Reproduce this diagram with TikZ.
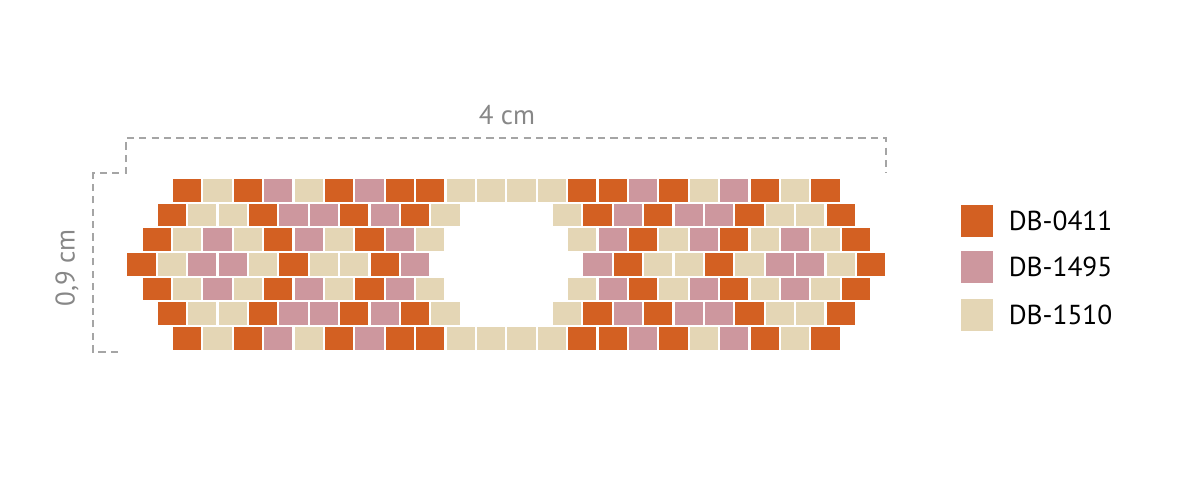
\documentclass[tikz,border=0pt]{standalone}
\usepackage{fontspec}
\setmainfont{PT Sans}
\usetikzlibrary{positioning}
\definecolor{db0411}{RGB}{211,96,34}
\definecolor{db1495}{RGB}{205,151,158}
\definecolor{db1510}{RGB}{228,214,181}
\definecolor{dimline}{RGB}{165,165,165}
\definecolor{dimtext}{RGB}{135,135,135}
\begin{document}
\begin{tikzpicture}[x=0.5pt,y=-0.5pt,
  o/.style={fill=db0411},p/.style={fill=db1495},t/.style={fill=db1510},n/.style={fill=none},
  dim/.style={draw=dimline,line width=0.6pt,dash pattern=on 3.6pt off 2.6pt},
  swatch/.style={minimum size=16pt,inner sep=0pt},
  legtext/.style={inner sep=0pt,font=\fontsize{13.7}{16}\selectfont}]
\useasboundingbox (0,0) rectangle (1200,500);
% bead rows, top to bottom
\foreach \c [count=\k from 0] in {o,t,o,p,t,o,p,o,o,t,t,t,t,o,o,p,o,t,p,o,t,o}
  \fill[\c] (172.9+\k*30.4,178.8) rectangle ++(28.3,22.8);
\foreach \c [count=\k from 0] in {o,t,t,o,p,p,o,p,o,t,n,n,n,t,o,p,o,p,p,o,t,t,o}
  \fill[\c] (157.7+\k*30.4,203.5) rectangle ++(28.3,22.8);
\foreach \c [count=\k from 0] in {o,t,p,t,o,p,t,o,p,t,n,n,n,n,t,p,o,t,p,o,t,p,t,o}
  \fill[\c] (142.5+\k*30.4,228.2) rectangle ++(28.3,22.8);
\foreach \c [count=\k from 0] in {o,t,p,p,t,o,t,t,o,p,n,n,n,n,n,p,o,t,t,o,t,p,p,t,o}
  \fill[\c] (127.3+\k*30.4,252.9) rectangle ++(28.3,22.8);
\foreach \c [count=\k from 0] in {o,t,p,t,o,p,t,o,p,t,n,n,n,n,t,p,o,t,p,o,t,p,t,o}
  \fill[\c] (142.5+\k*30.4,277.6) rectangle ++(28.3,22.8);
\foreach \c [count=\k from 0] in {o,t,t,o,p,p,o,p,o,t,n,n,n,t,o,p,o,p,p,o,t,t,o}
  \fill[\c] (157.7+\k*30.4,302.3) rectangle ++(28.3,22.8);
\foreach \c [count=\k from 0] in {o,t,o,p,t,o,p,o,o,t,t,t,t,o,o,p,o,t,p,o,t,o}
  \fill[\c] (172.9+\k*30.4,327.0) rectangle ++(28.3,22.8);
% dimensions
\draw[dim] (118,352)--(93,352)--(93,173)--(126,173)--(126,138)--(886,138)--(886,173);
\node[text=dimtext,font=\fontsize{13.5}{16}\selectfont] (width) at (507,115) {4 cm};
\node[text=dimtext,font=\fontsize{13.5}{16}\selectfont,rotate=90] (height) at (67,268) {0,9 cm};
% legend
\node[swatch,fill=db0411] (sw0411) at (977,221) {};
\node[swatch,fill=db1495] (sw1495) at (977,267) {};
\node[swatch,fill=db1510] (sw1510) at (977,315) {};
\node[legtext,right=7.5pt of sw0411] (lb0411) {DB-0411};
\node[legtext,right=7.5pt of sw1495] (lb1495) {DB-1495};
\node[legtext,right=7.5pt of sw1510] (lb1510) {DB-1510};
\end{tikzpicture}
\end{document}
